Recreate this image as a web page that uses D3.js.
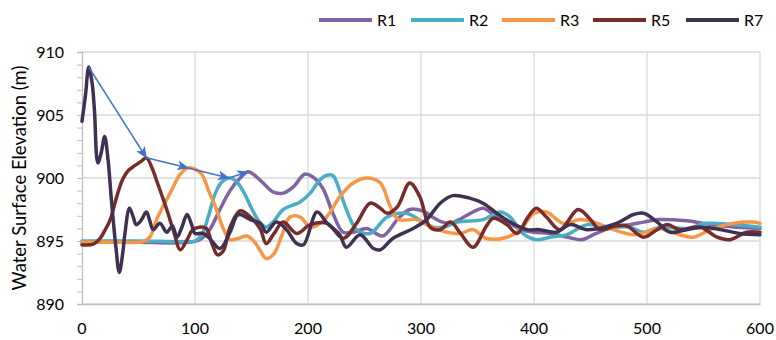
<!DOCTYPE html>
<html>
<head>
<meta charset="utf-8">
<script src="https://cdn.jsdelivr.net/npm/d3@7"></script>
<style>
  html, body { margin: 0; padding: 0; background: #fff; }
  svg { display: block; font-family: Lato, "Open Sans", sans-serif; }
</style>
</head>
<body>
<svg id="chart" width="776" height="340"></svg>
<script>
// ---- data ----
const seriesNames = ["R1", "R2", "R3", "R5", "R7"];
const xTicks = [0, 100, 200, 300, 400, 500, 600];
const yTicks = [890, 895, 900, 905, 910];

const r1T = [0,20,50,80,95,104,113,122,131,140,147,158,169,178,187,197,204,213,222,231,240,252,266,280,290,301,312,319,326,336,346,355,367,379,388,400,414,430,442,455,470,485,497,511,535,550,565,580,600];
const r1V = [894.9,894.9,894.9,894.85,894.9,895.1,895.9,897.5,899,900,900.5,899.8,898.9,898.8,899.3,900.3,900.1,899.2,897.2,895.7,895.7,896,895.4,896.8,897.5,897.4,896.8,896.5,896.4,896.8,897.3,897.6,896.9,896.4,895.9,895.7,895.6,895.3,895.1,895.6,896.1,896.3,896.5,896.7,896.6,896.4,896.2,896.1,896.0];

const r2T = [0,50,90,100,106,112,118,124,130,136,143,150,157,163,170,178,193,202,210,216,222,228,234,243,255,270,287,300,311,320,332,355,370,379,390,402,414,429,447,467,485,497,511,535,553,576,600];
const r2V = [895.0,895.0,894.95,895.0,895.5,897,898.8,899.7,900,899.8,898.9,897.6,896.5,896.1,896.6,897.5,898.1,898.8,899.8,900.2,900.2,899,897.5,895.9,895.6,896.9,897.2,896.6,896.1,896.1,896.5,896.7,897.3,896.9,895.6,895.1,895.3,895.5,896.3,896.1,896.1,895.7,896.1,896.0,896.4,896.3,896.1];

const r3T = [0,30,54,60,66,72,78,87,94,100,106,112,119,125,131,138,146,152,158,163,170,177,184,193,202,211,219,228,240,252,264,273,280,296,305,323,335,346,358,376,388,400,411,426,441,456,470,488,500,510,529,541,556,576,594,600];
const r3V = [894.9,894.9,894.95,895.3,896.7,897.8,898.8,900.3,900.8,900.7,900.3,899,897.5,896,895.1,895.2,895.4,895.0,894.2,893.6,894.0,895.5,896.9,896.9,896.1,896.4,897.2,898.5,899.6,900,899.6,897.7,896.7,896.7,896.3,895.7,895.6,895.9,895.2,895.3,895.9,897.2,897.3,896.4,896.7,896.4,895.9,895.5,895.7,896,895.5,895.3,895.9,896.4,896.5,896.4];

const r5T = [0,10,16,20,25,31,36,41,47,52,57,62,66,75,81,87,93,98,104,110,115,120,125,131,140,149,158,163,170,178,190,202,217,231,243,255,264,270,279,290,299,308,317,326,335,346,358,364,376,385,394,402,411,423,439,450,458,473,482,497,509,518,529,547,562,573,588,600];
const r5V = [894.7,894.75,895.2,895.8,896.7,898.6,899.9,900.6,901.0,901.3,901.6,900.8,899.8,897.5,895.8,894.3,895.1,895.9,896.1,896.0,894.8,893.9,894.2,896.1,897.4,896.9,895.9,894.8,895.6,896.5,895.6,896.3,896.4,895.2,896.4,898,897.6,897.2,897.7,899.6,898.5,896.1,895.9,896.5,895.6,894.5,896.2,896.8,896.3,895.6,896.8,897.6,896.9,895.9,897.5,896.7,895.9,896.2,896.2,895.3,895.9,896.3,895.9,896.1,895.3,895.1,895.7,895.7];

const r7T = [0,3,6,9,11,14,17,20,23,26,30,33,36,38,42,45,48,52,57,60,63,69,75,80,84,88,93,97,100,107,113,122,131,137,140,149,158,163,172,181,190,196,208,217,228,234,246,258,264,275,293,305,317,328,343,355,367,381,394,405,420,432,447,473,488,497,509,520,535,550,566,582,600];
const r7V = [904.5,906.5,908.8,907.5,905.4,901.2,902,903.3,901.5,898.3,894.5,892.5,894.0,895.6,897.6,897,896.3,896.6,897.3,896.6,895.9,896.4,895.7,896.2,895.3,896,897.1,896.3,895.6,895.6,895.2,894.4,895.7,897,897.1,896.7,896.4,895.7,896.5,895.9,894.8,894.7,897.3,896.4,895.5,894.5,895.5,894.4,894.3,895.2,896,896.7,898,898.6,898.4,898,897.2,896.4,895.9,895.9,895.7,896.3,895.9,896.4,897.1,897.2,896.5,895.7,895.9,896.1,895.9,895.6,895.5];

// times of the successive peaks linked by the annotation arrows (R7 -> R5 -> R3 -> R2 -> R1)
const peakSeries = ["R7", "R5", "R3", "R2", "R1"];
const peakTimes = [6, 57, 94, 130, 147];

const colors = {R1: "#8064A2", R2: "#4BACC6", R3: "#F79646", R5: "#772C2A", R7: "#403152"};

// ---- build ----
const series = [
  {name: "R1", t: r1T, v: r1V},
  {name: "R2", t: r2T, v: r2V},
  {name: "R3", t: r3T, v: r3V},
  {name: "R5", t: r5T, v: r5V},
  {name: "R7", t: r7T, v: r7V}
].map(s => ({name: s.name, pts: s.t.map((t, i) => ({t, v: s.v[i]}))}));

const svg = d3.select("#chart");
const x = d3.scaleLinear().domain([0, 600]).range([82, 760]);
const y = d3.scaleLinear().domain([890, 910]).range([304, 52]);

// gridlines
svg.append("g").selectAll("line.h").data(yTicks).join("line")
  .attr("x1", x(0)).attr("x2", x(600))
  .attr("y1", d => y(d)).attr("y2", d => y(d))
  .attr("stroke", "#d9d9d9").attr("stroke-width", 1.3);
svg.append("g").selectAll("line.v").data(xTicks.slice(1)).join("line")
  .attr("x1", d => x(d)).attr("x2", d => x(d))
  .attr("y1", y(910)).attr("y2", y(890))
  .attr("stroke", "#d9d9d9").attr("stroke-width", 1.3);

// left axis with minor ticks
const yAxis = d3.axisLeft(y).tickValues(d3.range(890, 911, 1)).tickSize(5).tickFormat("");
const ga = svg.append("g").attr("transform", `translate(${x(0)},0)`).call(yAxis);
ga.selectAll("line").attr("stroke", "#bfbfbf");
ga.select(".domain").attr("stroke", "#bfbfbf").attr("stroke-width", 1.3);
// bottom axis line
const xAxis = d3.axisBottom(x).tickValues(xTicks).tickSize(0).tickFormat("");
const gx = svg.append("g").attr("transform", `translate(0,${y(890)})`).call(xAxis);
gx.select(".domain").attr("stroke", "#bfbfbf").attr("stroke-width", 1.3);

// tick labels
svg.append("g").selectAll("text").data(yTicks).join("text")
  .attr("x", 64).attr("y", d => y(d)).attr("dy", "0.35em")
  .attr("text-anchor", "end").attr("font-size", 16).attr("fill", "#000")
  .text(d => d);
svg.append("g").selectAll("text").data(xTicks).join("text")
  .attr("x", d => x(d)).attr("y", 334)
  .attr("text-anchor", "middle").attr("font-size", 16).attr("fill", "#000")
  .text(d => d);

// y axis title
svg.append("text")
  .attr("transform", `translate(26,${(y(890) + y(910)) / 2}) rotate(-90)`)
  .attr("text-anchor", "middle").attr("font-size", 18.5).attr("fill", "#000")
  .text("Water Surface Elevation (m)");

// lines
const line = d3.line().x(d => x(d.t)).y(d => y(d.v)).curve(d3.curveCatmullRom.alpha(0.5));
svg.append("g").selectAll("path").data(series).join("path")
  .attr("d", d => line(d.pts))
  .attr("fill", "none")
  .attr("stroke", d => colors[d.name])
  .attr("stroke-width", 3.5)
  .attr("stroke-linejoin", "round")
  .attr("stroke-linecap", "round");

// arrows between peaks
const defs = svg.append("defs");
defs.append("marker").attr("id", "ah")
  .attr("viewBox", "0 0 12 10").attr("refX", 11).attr("refY", 5)
  .attr("markerWidth", 12).attr("markerHeight", 10)
  .attr("markerUnits", "userSpaceOnUse").attr("orient", "auto")
  .append("path").attr("d", "M0,0 L12,5 L0,10 L3,5 Z").attr("fill", "#4472C4");

const peaks = peakSeries.map((n, i) => {
  const s = series.find(d => d.name === n);
  return s.pts.find(d => d.t === peakTimes[i]);
});
svg.append("g").selectAll("line").data(d3.pairs(peaks)).join("line")
  .attr("x1", d => x(d[0].t)).attr("y1", d => y(d[0].v))
  .attr("x2", d => x(d[1].t)).attr("y2", d => y(d[1].v))
  .attr("stroke", "#4472C4").attr("stroke-width", 1.6)
  .attr("marker-end", "url(#ah)");

// legend
const legX = [319, 411, 502, 593, 686];
const lg = svg.append("g").selectAll("g").data(seriesNames).join("g")
  .attr("transform", (d, i) => `translate(${legX[i]},20)`);
lg.append("line").attr("x1", 0).attr("x2", 53).attr("y1", 0).attr("y2", 0)
  .attr("stroke", d => colors[d]).attr("stroke-width", 4);
lg.append("text").attr("x", 58).attr("y", 0).attr("dy", "0.35em")
  .attr("font-size", 16).attr("fill", "#000").text(d => d);
</script>
</body>
</html>
